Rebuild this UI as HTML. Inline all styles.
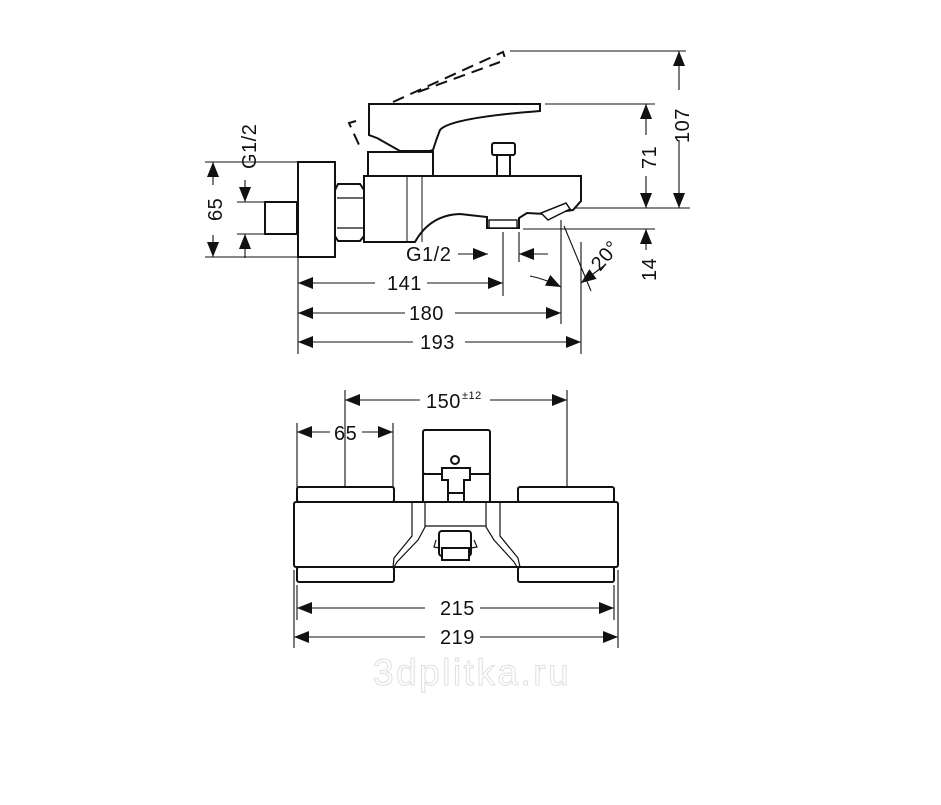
<!DOCTYPE html>
<html><head><meta charset="utf-8"><style>
html,body{margin:0;padding:0;background:#fff;width:941px;height:805px;overflow:hidden}
svg{display:block}
text{font-family:"Liberation Sans",sans-serif;font-size:20px;fill:#111;letter-spacing:0.5px}
</style></head><body>
<svg width="941" height="805" viewBox="0 0 941 805" xmlns="http://www.w3.org/2000/svg">
<defs>
<marker id="a" markerUnits="userSpaceOnUse" markerWidth="16" markerHeight="12" refX="15" refY="6" orient="auto-start-reverse"><path d="M0,0 L15,6 L0,12 Z" fill="#111"/></marker>
</defs>
<g stroke="#111" fill="none" stroke-width="1.1">
<path d="M510 51H686 M545 104H655 M585 208H690 M523 229H655 M303 208H585"/>
<path d="M205 162H297 M205 257H297 M237 202H264 M237 234H264"/>
<path d="M298 257V354 M503 232V296 M561 220V324 M581 242V354 M519 232V262"/>
<path d="M564 226L591 291"/>
<path d="M679 140V208" marker-end="url(#a)"/>
<path d="M679 51V90" marker-start="url(#a)"/>
<path d="M646 104V135" marker-start="url(#a)"/>
<path d="M646 176V208" marker-end="url(#a)"/>
<path d="M646 229V250" marker-start="url(#a)"/>
<path d="M213 162V185" marker-start="url(#a)"/>
<path d="M213 235V257" marker-end="url(#a)"/>
<path d="M245 180V202" marker-end="url(#a)"/>
<path d="M245 234V258" marker-start="url(#a)"/>
<path d="M298 283H375" marker-start="url(#a)"/><path d="M427 283H503" marker-end="url(#a)"/>
<path d="M298 313H405" marker-start="url(#a)"/><path d="M455 313H561" marker-end="url(#a)"/>
<path d="M298 342H413" marker-start="url(#a)"/><path d="M465 342H581" marker-end="url(#a)"/>
<path d="M458 254H488" marker-end="url(#a)"/>
<path d="M548 254H519" marker-end="url(#a)"/>
<path d="M530 276Q545 279 561 287" marker-end="url(#a)"/>
<path d="M605 265L581 283" marker-end="url(#a)"/>
<path d="M345 390V515 M567 390V515 M297 423V487 M393 423V487 M294 570V648 M297 585V620 M614 585V620 M618 570V648"/>
<path d="M345 400H420" marker-start="url(#a)"/><path d="M490 400H567" marker-end="url(#a)"/>
<path d="M297 432H330" marker-start="url(#a)"/><path d="M362 432H393" marker-end="url(#a)"/>
<path d="M297 608H425" marker-start="url(#a)"/><path d="M480 608H614" marker-end="url(#a)"/>
<path d="M294 637H425" marker-start="url(#a)"/><path d="M480 637H618" marker-end="url(#a)"/>
</g>
<g stroke="#111" fill="#fff" stroke-width="2">
<rect x="265" y="202" width="32" height="32"/>
<rect x="298" y="162" width="37" height="95"/>
<path d="M338 184H360L364 190V236L360 241H338L335 236V190Z"/>
<path d="M337 198H363 M337 228H363" stroke-width="1.2"/>
<path d="M364 176H581V201L573 210L545 214L527 213L519 218V228H487V217L460 214Q430 215 415 242H364Z"/>
<path d="M407 176V242 M422 176V242" stroke-width="1"/>
<rect x="489" y="220" width="28" height="8" stroke-width="1.4"/>
<path d="M541 213L548 220L570 209L566 203Z" stroke-width="1.5"/>
<rect x="368" y="152" width="65" height="24"/>
<rect x="492" y="143" width="23" height="12" rx="2"/>
<rect x="497" y="155" width="13" height="21"/>
<path d="M369 104H540V111Q450 118 440 130Q436 140 433 150L430 151H400L377 138L369 135Z"/>
<rect x="297" y="487" width="97" height="15" rx="2"/>
<rect x="518" y="487" width="96" height="15" rx="2"/>
<rect x="297" y="567" width="97" height="15" rx="2"/>
<rect x="518" y="567" width="96" height="15" rx="2"/>
<rect x="294" y="502" width="324" height="65" rx="2"/>
<rect x="423" y="430" width="67" height="44" rx="2"/>
<rect x="423" y="474" width="67" height="28"/>
<path d="M442 468H470V480H464V493H448V480H442Z"/>
<rect x="448" y="493" width="16" height="9"/>
<circle cx="455" cy="460" r="4"/>
<rect x="439" y="531" width="32" height="25" rx="3"/>
<rect x="442" y="548" width="27" height="12"/>
</g>
<g stroke="#111" fill="none" stroke-width="1.2">
<path d="M412 502V536L394 558L393 567 M500 502V536L518 558L520 567"/>
<path d="M425 502V527L418 540L397 562L394 567 M486 502V527L494 540L514 562L517 567"/>
<path d="M425 526H486"/>
<path d="M436 540L434 547L439 548 M474 540L477 547L471 548"/>
</g>
<g stroke="#111" fill="none" stroke-width="2" stroke-dasharray="12,7">
<path d="M393 102L503 52L505 58 M356 121L349 123L360 147"/>
<path d="M418 92L500 62"/>
</g>
<text x="387" y="290">141</text>
<text x="409" y="320">180</text>
<text x="420" y="349">193</text>
<text x="406" y="261">G1/2</text>
<text x="656" y="281" transform="rotate(-90 656 281)">14</text>
<text x="656" y="169" transform="rotate(-90 656 169)">71</text>
<text x="689" y="143" transform="rotate(-90 689 143)">107</text>
<text x="222" y="221" transform="rotate(-90 222 221)">65</text>
<text x="256" y="169" transform="rotate(-90 256 169)">G1/2</text>
<text x="600" y="272" transform="rotate(-50 600 272)">20°</text>
<text x="426" y="408">150</text><text x="462" y="399" style="font-size:11px">±12</text>
<text x="334" y="440">65</text>
<text x="440" y="615">215</text>
<text x="440" y="644">219</text>
<text x="373" y="685" style="font-size:37px;fill:none;stroke:#e0e0e0;stroke-width:1;letter-spacing:2.5px">3dplitka.ru</text>
</svg>
</body></html>
